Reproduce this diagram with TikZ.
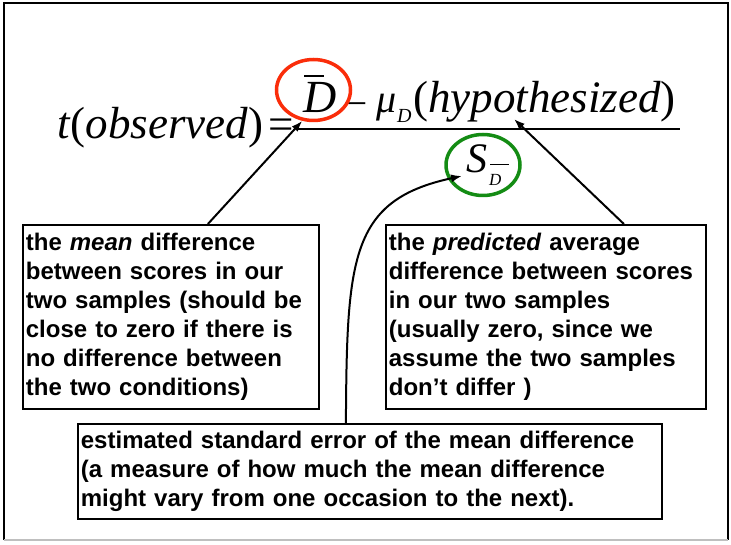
\documentclass[tikz,border=0pt]{standalone}
\usepackage{fontspec}
\setmainfont{Liberation Serif}
\newfontfamily\notefont{Liberation Sans}
\usepackage{tikz}
\usetikzlibrary{calc,shapes.geometric,arrows.meta}
\definecolor{ringred}{RGB}{250,45,10}
\definecolor{ringgreen}{RGB}{20,140,20}

\begin{document}
\begin{tikzpicture}[x=1pt, y=-1pt,
  note/.style={draw, line width=1.8pt, anchor=north west, align=left, inner xsep=3pt, inner ysep=0pt, font=\notefont\bfseries\fontsize{24}{29}\selectfont},
  ring/.style={ellipse, draw=#1, line width=3.5pt, minimum width=74pt, minimum height=61pt, inner sep=0pt},
  eqtext/.style={anchor=base west, inner sep=0pt, font=\fontsize{#1}{#1}\selectfont},
  arrow/.style={-{Latex[length=11pt,width=8pt]}, line width=2pt}
]
\useasboundingbox (0,0) rectangle (731,545);
\draw[line width=2pt] (4,540) -- (4,3) -- (728,3) -- (728,540);
\draw[black!25, line width=1.2pt] (4,540) -- (728,540);

\node[eqtext=45] (tobs) at (57,139) {\textit{t}(\textit{observed})};
\node[eqtext=45] (eqsign) at (268,140) {=};
\node[eqtext=46] (dbar) at (303,113) {\textit{D}};
\draw[line width=1.8pt] (dbar.north west) ++(1,-7) -- ++(20,0);
\node[eqtext=38] (minus) at (346,113) {–};
\node[eqtext=40] (mu) at (376,113) {\textit{μ}};
\node[eqtext=20] (mud) at (397,123) {\textit{D}};
\node[eqtext=45] (hyp) at (413,113) {(\textit{hypothesized})};
\draw[line width=2.2pt] (298,129) -- (680,129);
\node[eqtext=42] (sd) at (466,173) {\textit{S}};
\node[eqtext=17] (sdd) at (489,186) {\textit{D}};
\draw[line width=1.2pt] (sdd.north west) ++(1,-10) -- ++(19,0);

\node[ring=ringred] (dring) at (313.5,90) {};
\node[ring=ringgreen] (sring) at (483,165) {};

\node[note, text width=290pt, minimum height=184pt] (meanbox) at (22,224) {the \textit{mean} difference\\ between scores in our\\ two samples (should be\\ close to zero if there is\\ no difference between\\ the two conditions)};
\node[note, text width=314pt, minimum height=184pt] (predbox) at (385,224) {the \textit{predicted} average\\ difference between scores\\ in our two samples\\ (usually zero, since we\\ assume the two samples\\ don’t differ )};
\node[note, text width=578pt, minimum height=95pt] (sebox) at (77,423) {estimated standard error of the mean difference\\ (a measure of how much the mean difference\\ might vary from one occasion to the next).};

\coordinate (hypfoot) at (514,119);
\draw[arrow] ([xshift=37pt]meanbox.north) -- (dring.250);
\draw[arrow] ([xshift=78pt]predbox.north) -- (hypfoot);
\draw[arrow] ([xshift=-24pt]sebox.north) .. controls +(1,-165) and +(-112,24) .. ([shift={(-4,3)}]sd.base west);
\end{tikzpicture}
\end{document}
